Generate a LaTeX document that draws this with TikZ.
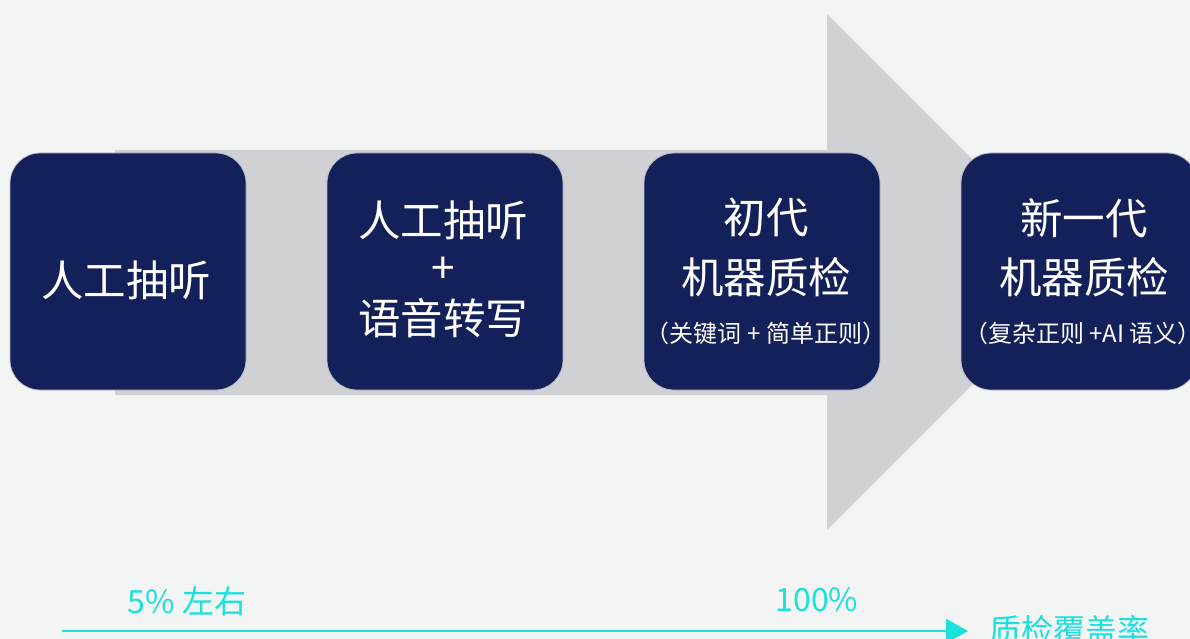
\documentclass[tikz,border=0pt]{standalone}
\usepackage{fontspec}
\setmainfont{Noto Sans CJK SC}
\usetikzlibrary{arrows.meta}
\definecolor{bg}{HTML}{F3F5F4}
\definecolor{arrowgray}{HTML}{D0D1D5}
\definecolor{navy}{HTML}{14205A}
\definecolor{cyanc}{HTML}{1CE0DC}
\tikzset{
  stagebox/.style={rectangle, rounded corners=30pt, minimum width=236pt, minimum height=237pt, fill=navy, draw=black!25, line width=0.8pt, inner sep=0pt},
  bigtxt/.style={text=white, font=\fontsize{42.5}{46}\selectfont, inner sep=0pt},
  smalltxt/.style={text=white, font=\fontsize{24}{27}\selectfont, inner sep=0pt},
  axistxt/.style={text=cyanc, font=\fontsize{32}{35}\selectfont, inner sep=0pt},
}
\begin{document}
\begin{tikzpicture}[x=1pt,y=-1pt]
\fill[bg] (0,0) rectangle (1190,639);
\useasboundingbox (0,0) rectangle (1190,639);
% big gray arrow
\fill[arrowgray] (115,150) -- (827,150) -- (827,14) -- (1085,272) -- (827,530) -- (827,395) -- (115,395) -- cycle;
% boxes
\node[stagebox] (b1) at (128,271.5) {};
\node[stagebox] (b2) at (445,271.5) {};
\node[stagebox] (b3) at (762,271.5) {};
\node[stagebox] (b4) at (1079,271.5) {};
% texts
\node[bigtxt] (t1) at (126,280) {人工抽听};
\node[bigtxt] (t2a) at (443,220) {人工抽听};
\node[bigtxt] (t2b) at (443,270) {+};
\node[bigtxt] (t2c) at (443,318) {语音转写};
\node[bigtxt] (t3a) at (766,217) {初代};
\node[bigtxt] (t3b) at (766,277) {机器质检};
\node[smalltxt] (t3c) at (766,333) {（关键词 + 简单正则）};
\node[bigtxt] (t4a) at (1084,218) {新一代};
\node[bigtxt] (t4b) at (1084,277) {机器质检};
\node[smalltxt] (t4c) at (1083,333) {（复杂正则 +AI 语义）};
% axis
\coordinate (ax0) at (62,631);
\coordinate (ax1) at (968,631);
\draw[cyanc, line width=2.5pt, -{Triangle[length=22pt,width=24pt]}] (ax0) -- (ax1);
\node[axistxt] (l1) at (187,601) {5\% 左右};
\node[axistxt] (l2) at (817,600) {100\%};
\node[axistxt, anchor=west] (l3) at (989,630) {质检覆盖率};
\end{tikzpicture}
\end{document}
